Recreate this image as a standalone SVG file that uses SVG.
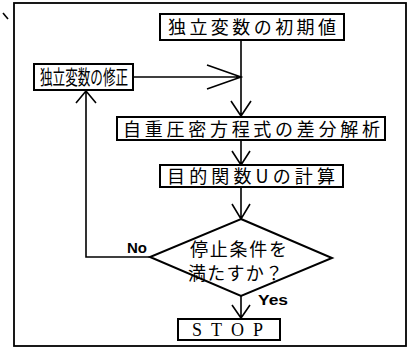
<svg xmlns="http://www.w3.org/2000/svg" width="415" height="362" viewBox="0 0 415 362">
<style>
.box{fill:#fff;stroke:#000;stroke-width:2}
.ln{fill:none;stroke:#000;stroke-width:1.6}
.jp{font-family:"Noto Sans CJK JP","Noto Sans CJK SC",sans-serif;font-size:18px;fill:#000}
.lab{font-family:"Liberation Sans",sans-serif;font-size:14px;font-weight:bold;fill:#000}
.stop{font-family:"Liberation Serif",serif;font-size:18px;fill:#000}
</style>
<rect width="415" height="362" fill="#fff"/>
<path class="ln" d="M3,13 L8,19"/>
<rect x="14" y="3" width="392" height="343" fill="none" stroke="#000" stroke-width="1.8"/>
<g id="connectors">
<path class="ln" d="M241,40 V116 M231,101 L241,116 L251,101"/>
<path class="ln" d="M133,77 H241 M207,65 L241,77 L207,89"/>
<path class="ln" d="M241,140 V165 M232,151 L241,165 L250,151"/>
<path class="ln" d="M241,187 V219 M232,204 L241,219 L250,204"/>
<path class="ln" d="M150,257 H86 V91 M76,103 L86,91 L96,103"/>
<path class="ln" d="M241,296 V318 M232,305 L241,318 L250,305"/>
<text class="lab" x="127" y="253" textLength="20" lengthAdjust="spacingAndGlyphs">No</text>
<text class="lab" x="258" y="305" textLength="30" lengthAdjust="spacingAndGlyphs">Yes</text>
</g>
<g id="init">
<rect class="box" x="160" y="14" width="184" height="26"/>
<text class="jp" x="168" y="34" textLength="168" lengthAdjust="spacing">独立変数の初期値</text>
</g>
<g id="modify">
<rect class="box" x="34" y="64" width="99" height="26"/>
<text class="jp" style="font-size:20px" transform="translate(40,84.5) scale(0.63,1)" x="0" y="0">独立変数の修正</text>
</g>
<g id="solve">
<rect class="box" x="117" y="117" width="268" height="23"/>
<text class="jp" x="123" y="136" textLength="257" lengthAdjust="spacing">自重圧密方程式の差分解析</text>
</g>
<g id="objective">
<rect class="box" x="160" y="165" width="183" height="22"/>
<text class="jp" x="167" y="183" textLength="168" lengthAdjust="spacing">目的関数Uの計算</text>
</g>
<g id="decision">
<polygon class="box" points="241,219 332,258 241,296 150,257"/>
<text class="jp" x="190" y="256" textLength="97" lengthAdjust="spacing">停止条件を</text>
<text class="jp" x="188" y="280" textLength="95" lengthAdjust="spacing">満たすか？</text>
</g>
<g id="stop">
<rect class="box" x="178" y="319" width="102" height="21"/>
<text class="stop" x="192" y="336" textLength="71" lengthAdjust="spacing">STOP</text>
</g>
</svg>
